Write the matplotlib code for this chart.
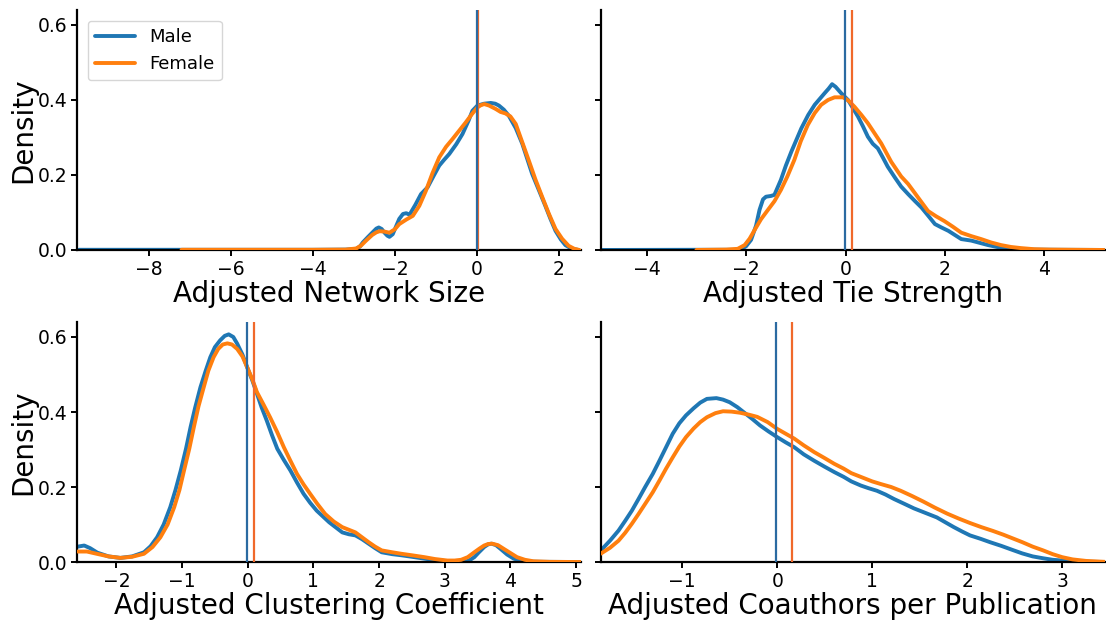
import matplotlib
matplotlib.use("Agg")
import matplotlib.pyplot as plt

# ---------------- data ----------------
groups = ["Male", "Female"]
xlabels = ["Adjusted Network Size", "Adjusted Tie Strength",
           "Adjusted Clustering Coefficient", "Adjusted Coauthors per Publication"]

# Panel 1: network size
size_male_x = [-9.7, -7.0, -4.0, -3.2, -2.94, -2.85, -2.78, -2.65, -2.55, -2.45, -2.39, -2.32, -2.25, -2.18,
               -2.13, -2.05, -1.98, -1.89, -1.80, -1.72, -1.64, -1.50, -1.36, -1.20, -1.05, -0.915, -0.80,
               -0.67, -0.50, -0.35, -0.20, -0.107, 0.015, 0.18, 0.34, 0.45, 0.54, 0.66, 0.78, 0.95, 1.11,
               1.35, 1.52, 1.67, 1.80, 1.92, 2.05, 2.16, 2.30, 2.48]
size_male_y = [0.0005, 0.0005, 0.0005, 0.001, 0.003, 0.009, 0.02, 0.035, 0.046, 0.057, 0.06, 0.056, 0.046, 0.038,
               0.035, 0.042, 0.06, 0.083, 0.096, 0.098, 0.094, 0.12, 0.149, 0.167, 0.198, 0.225, 0.24,
               0.256, 0.282, 0.309, 0.345, 0.371, 0.385, 0.39, 0.392, 0.39, 0.385, 0.374, 0.358, 0.325, 0.283,
               0.203, 0.158, 0.118, 0.082, 0.051, 0.028, 0.013, 0.004, 0.0]
size_female_x = [-7.2, -4.0, -3.2, -2.94, -2.82, -2.70, -2.55, -2.45, -2.37, -2.25, -2.13, -2.00, -1.89,
                 -1.72, -1.56, -1.40, -1.24, -1.08, -0.915, -0.75, -0.59, -0.43, -0.27, -0.12, 0.015, 0.1,
                 0.18, 0.30, 0.46, 0.58, 0.70, 0.82, 0.95, 1.10, 1.27, 1.43, 1.60, 1.76, 1.92, 2.08,
                 2.24, 2.38, 2.5]
size_female_y = [0.0005, 0.0005, 0.001, 0.004, 0.012, 0.025, 0.04, 0.047, 0.05, 0.049, 0.046, 0.055, 0.069,
                 0.081, 0.091, 0.118, 0.158, 0.205, 0.247, 0.275, 0.296, 0.318, 0.34, 0.362, 0.38, 0.386,
                 0.389, 0.385, 0.376, 0.368, 0.364, 0.356, 0.336, 0.29, 0.238, 0.188, 0.14, 0.096, 0.056, 0.03,
                 0.011, 0.003, 0.0]
size_means = [0.0, 0.03]

# Panel 2: tie strength
tie_male_x = [-4.9, -3.0, -2.4, -2.18, -2.10, -2.0, -1.90, -1.80, -1.73, -1.66, -1.60, -1.50, -1.43, -1.30,
              -1.20, -1.09, -0.89, -0.75, -0.62, -0.42, -0.34, -0.27, -0.20, -0.087, 0.05, 0.15, 0.25,
              0.35, 0.45, 0.55, 0.65, 0.75, 0.85, 1.0, 1.12, 1.26, 1.40, 1.53, 1.66, 1.80, 1.93, 2.07,
              2.20, 2.33, 2.53, 2.70, 2.87, 3.05, 3.27, 3.7, 4.3, 5.2]
tie_male_y = [0.0, 0.0005, 0.0005, 0.0005, 0.002, 0.01, 0.027, 0.065, 0.107, 0.135, 0.142, 0.144, 0.147, 0.187,
              0.225, 0.262, 0.324, 0.36, 0.387, 0.418, 0.43, 0.442, 0.435, 0.418, 0.40, 0.378, 0.356,
              0.33, 0.302, 0.283, 0.271, 0.247, 0.222, 0.192, 0.169, 0.149, 0.13, 0.113, 0.092, 0.069, 0.06,
              0.051, 0.04, 0.029, 0.025, 0.019, 0.013, 0.008, 0.005, 0.001, 0.0005, 0.0]
tie_female_x = [-3.0, -2.4, -2.17, -2.03, -1.93, -1.83, -1.70, -1.56, -1.43, -1.30, -1.17, -1.03, -0.90,
                -0.76, -0.62, -0.49, -0.35, -0.22, -0.05, 0.06, 0.18, 0.32, 0.45, 0.58, 0.72, 0.92,
                1.12, 1.26, 1.46, 1.66, 1.82, 1.99, 2.16, 2.33, 2.53, 2.73, 2.93, 3.13, 3.33, 3.53,
                3.8, 4.1, 4.6, 5.2]
tie_female_y = [0.0, 0.001, 0.003, 0.013, 0.03, 0.053, 0.082, 0.107, 0.13, 0.16, 0.196, 0.24, 0.29,
                0.333, 0.365, 0.387, 0.4, 0.407, 0.407, 0.398, 0.382, 0.36, 0.338, 0.312, 0.284, 0.235,
                0.196, 0.176, 0.14, 0.104, 0.09, 0.077, 0.062, 0.046, 0.037, 0.029, 0.02, 0.013, 0.008, 0.005,
                0.002, 0.001, 0.0005, 0.0]
tie_means = [-0.01, 0.14]

# Panel 3: clustering coefficient
clu_male_x = [-2.59, -2.49, -2.40, -2.29, -2.12, -1.94, -1.76, -1.58, -1.48, -1.38, -1.28, -1.18, -1.10,
              -1.02, -0.94, -0.87, -0.80, -0.72, -0.64, -0.57, -0.50, -0.42, -0.35, -0.29, -0.22, -0.16,
              -0.08, -0.01, 0.07, 0.14, 0.21, 0.29, 0.37, 0.45, 0.55, 0.65, 0.75, 0.85, 0.95, 1.05,
              1.24, 1.44, 1.54, 1.64, 1.74, 1.84, 1.94, 2.04, 2.2, 2.34, 2.5, 2.69, 2.85, 2.99, 3.15,
              3.30, 3.38, 3.45, 3.52, 3.60, 3.66, 3.71, 3.78, 3.85, 3.95, 4.05, 4.15, 4.25, 4.5, 5.1]
clu_male_y = [0.041, 0.044, 0.037, 0.025, 0.015, 0.011, 0.015, 0.026, 0.042, 0.066, 0.1, 0.146, 0.192,
              0.244, 0.302, 0.36, 0.412, 0.466, 0.51, 0.546, 0.573, 0.591, 0.603, 0.607, 0.6, 0.582,
              0.553, 0.52, 0.484, 0.449, 0.413, 0.377, 0.338, 0.302, 0.272, 0.244, 0.212, 0.182, 0.158, 0.137,
              0.106, 0.079, 0.074, 0.071, 0.061, 0.049, 0.037, 0.026, 0.021, 0.018, 0.014, 0.009, 0.005, 0.003,
              0.001, 0.0, 0.005, 0.013, 0.026, 0.04, 0.047, 0.049, 0.045, 0.035, 0.02, 0.009, 0.004, 0.001,
              0.0005, 0.0]
clu_female_x = [-2.59, -2.45, -2.30, -2.12, -1.94, -1.76, -1.58, -1.45, -1.33, -1.22, -1.12, -1.04, -0.97,
                -0.89, -0.82, -0.75, -0.67, -0.60, -0.52, -0.45, -0.38, -0.31, -0.24, -0.16, -0.08, -0.01,
                0.07, 0.14, 0.24, 0.34, 0.45, 0.55, 0.65, 0.75, 0.85, 0.95, 1.06, 1.18, 1.31, 1.44, 1.54,
                1.64, 1.74, 1.84, 1.94, 2.04, 2.2, 2.34, 2.5, 2.69, 2.85, 3.04, 3.15, 3.25, 3.35, 3.45,
                3.53, 3.60, 3.66, 3.72, 3.81, 3.90, 4.0, 4.10, 4.22, 4.35, 4.6, 5.1]
clu_female_y = [0.028, 0.028, 0.022, 0.015, 0.011, 0.014, 0.022, 0.04, 0.066, 0.1, 0.146, 0.192, 0.244,
                0.302, 0.36, 0.415, 0.466, 0.51, 0.546, 0.568, 0.58, 0.583, 0.58, 0.568, 0.548, 0.52,
                0.487, 0.453, 0.42, 0.386, 0.346, 0.306, 0.27, 0.235, 0.207, 0.182, 0.155, 0.128, 0.108, 0.093,
                0.086, 0.079, 0.066, 0.053, 0.041, 0.031, 0.026, 0.022, 0.018, 0.013, 0.008, 0.004, 0.004,
                0.006, 0.013, 0.026, 0.036, 0.044, 0.048, 0.049, 0.045, 0.035, 0.024, 0.013, 0.006, 0.002,
                0.0005, 0.0]
clu_means = [-0.01, 0.09]

# Panel 4: coauthors per publication
coa_male_x = [-1.86, -1.76, -1.67, -1.60, -1.53, -1.46, -1.39, -1.31, -1.24, -1.17, -1.10, -1.03, -0.96,
              -0.88, -0.81, -0.74, -0.64, -0.57, -0.50, -0.42, -0.35, -0.26, -0.18, -0.09, 0.0, 0.09,
              0.18, 0.28, 0.39, 0.50, 0.60, 0.70, 0.78, 0.88, 0.96, 1.05, 1.14, 1.23, 1.34, 1.44, 1.56,
              1.68, 1.77, 1.86, 1.95, 2.03, 2.14, 2.24, 2.36, 2.48, 2.58, 2.69, 2.80, 2.90, 3.05,
              3.2, 3.45]
coa_male_y = [0.03, 0.057, 0.084, 0.11, 0.137, 0.168, 0.2, 0.235, 0.27, 0.306, 0.342, 0.37, 0.391,
              0.41, 0.425, 0.435, 0.437, 0.433, 0.426, 0.413, 0.399, 0.381, 0.364, 0.348, 0.333, 0.319,
              0.306, 0.287, 0.27, 0.254, 0.24, 0.227, 0.215, 0.204, 0.197, 0.19, 0.18, 0.168, 0.155, 0.143, 0.131,
              0.119, 0.106, 0.093, 0.081, 0.071, 0.062, 0.053, 0.043, 0.032, 0.023, 0.015, 0.01, 0.006, 0.003,
              0.001, 0.0]
coa_female_x = [-1.86, -1.76, -1.67, -1.60, -1.53, -1.46, -1.39, -1.31, -1.24, -1.17, -1.10, -1.03, -0.96,
                -0.88, -0.81, -0.74, -0.65, -0.57, -0.48, -0.39, -0.30, -0.21, -0.10, 0.0, 0.09, 0.18,
                0.28, 0.39, 0.50, 0.60, 0.70, 0.78, 0.91, 1.0, 1.09, 1.20, 1.30, 1.42, 1.54, 1.66, 1.79,
                1.91, 2.03, 2.15, 2.27, 2.38, 2.48, 2.58, 2.69, 2.80, 2.90, 3.00, 3.11, 3.25, 3.45]
coa_female_y = [0.022, 0.038, 0.057, 0.078, 0.102, 0.128, 0.155, 0.186, 0.217, 0.249, 0.279, 0.308, 0.333,
                0.356, 0.373, 0.386, 0.397, 0.402, 0.401, 0.398, 0.393, 0.387, 0.373, 0.355, 0.342, 0.329,
                0.311, 0.293, 0.277, 0.262, 0.249, 0.237, 0.224, 0.215, 0.208, 0.2, 0.19, 0.176, 0.161, 0.145,
                0.129, 0.116, 0.104, 0.093, 0.083, 0.073, 0.063, 0.053, 0.041, 0.031, 0.021, 0.013, 0.007,
                0.003, 0.0005]
coa_means = [-0.01, 0.16]

panels = [
    (size_male_x, size_male_y, size_female_x, size_female_y, size_means, (-9.75, 2.55), [-8, -6, -4, -2, 0, 2]),
    (tie_male_x, tie_male_y, tie_female_x, tie_female_y, tie_means, (-4.93, 5.22), [-4, -2, 0, 2, 4]),
    (clu_male_x, clu_male_y, clu_female_x, clu_female_y, clu_means, (-2.6, 5.08), [-2, -1, 0, 1, 2, 3, 4, 5]),
    (coa_male_x, coa_male_y, coa_female_x, coa_female_y, coa_means, (-1.86, 3.45), [-1, 0, 1, 2, 3]),
]

curve_colors = ["#1f77b4", "#ff7f0e"]
mean_colors = ["#2b6aa1", "#f0692b"]

fig, axes = plt.subplots(2, 2, figsize=(11.06, 6.2), dpi=100, sharey=True)
fig.subplots_adjust(left=0.0696, right=0.999, bottom=0.0935, top=0.984, wspace=0.038, hspace=0.30)

for i, (ax, p) in enumerate(zip(axes.flat, panels)):
    mx, my, fx, fy, means, xlim, xt = p
    ax.plot(mx, my, color=curve_colors[0], lw=2.8, label=groups[0], zorder=2,
            solid_joinstyle="round", solid_capstyle="round")
    ax.plot(fx, fy, color=curve_colors[1], lw=2.8, label=groups[1], zorder=3,
            solid_joinstyle="round", solid_capstyle="round")
    if i == 0:
        ax.axvline(means[1], color=mean_colors[1], lw=1.6, zorder=4)
        ax.axvline(means[0], color=mean_colors[0], lw=1.6, zorder=5)
    else:
        ax.axvline(means[0], color=mean_colors[0], lw=1.6, zorder=4)
        ax.axvline(means[1], color=mean_colors[1], lw=1.6, zorder=5)
    ax.set_xlim(*xlim)
    ax.set_ylim(0, 0.64)
    ax.set_xticks(xt)
    ax.set_yticks([0.0, 0.2, 0.4, 0.6])
    ax.set_xlabel(xlabels[i], fontsize=20, labelpad=1)
    for s in ["top", "right"]:
        ax.spines[s].set_visible(False)
    for s in ["left", "bottom"]:
        ax.spines[s].set_linewidth(1.6)
    ax.tick_params(axis="both", labelsize=13.5, width=1.4, length=4, pad=3)
    if i % 2 == 0:
        ax.set_ylabel("Density", fontsize=20, labelpad=0)
    else:
        ax.tick_params(axis="y", labelleft=False)

axes[0, 0].legend(loc="upper left", fontsize=13, frameon=True, handlelength=2.2,
                  borderaxespad=0.6, bbox_to_anchor=(0.0, 1.0))

fig.savefig("out.png", dpi=100)
